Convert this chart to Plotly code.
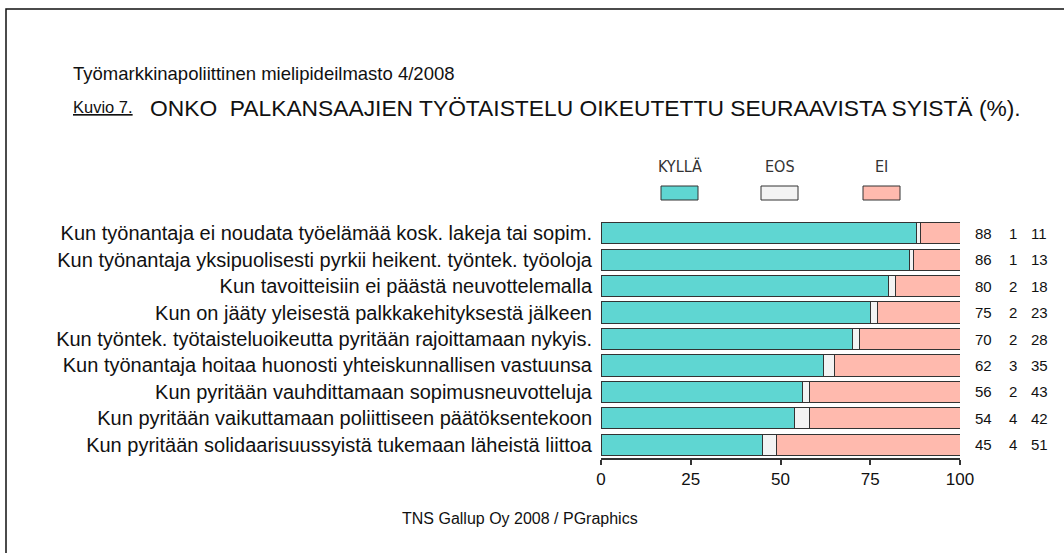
import plotly.graph_objects as go

categories = [
    "Kun työnantaja ei noudata työelämää kosk. lakeja tai sopim.",
    "Kun työnantaja yksipuolisesti pyrkii heikent. työntek. työoloja",
    "Kun tavoitteisiin ei päästä neuvottelemalla",
    "Kun on jääty yleisestä palkkakehityksestä jälkeen",
    "Kun työntek. työtaisteluoikeutta pyritään rajoittamaan nykyis.",
    "Kun työnantaja hoitaa huonosti yhteiskunnallisen vastuunsa",
    "Kun pyritään vauhdittamaan sopimusneuvotteluja",
    "Kun pyritään vaikuttamaan poliittiseen päätöksentekoon",
    "Kun pyritään solidaarisuussyistä tukemaan läheistä liittoa",
]
kylla = [88, 86, 80, 75, 70, 62, 56, 54, 45]
eos = [1, 1, 2, 2, 2, 3, 2, 4, 4]
ei = [11, 13, 18, 23, 28, 35, 43, 42, 51]
series_names = ["KYLLÄ", "EOS", "EI"]
tick_vals = [0, 25, 50, 75, 100]

colors = ["#5fd6d2", "#f3f3f3", "#ffbaae"]
W, H = 1064, 553
L, R, T, B = 601, 960, 220, 458

def px(x):
    return (x - L) / (R - L)

def py(y):
    return (B - y) / (B - T)

FONT = "Liberation Sans, Arial, sans-serif"
NARROW = "Liberation Sans Narrow, Arial Narrow, DejaVu Sans Condensed, sans-serif"

fig = go.Figure()
for name, vals, col in zip(series_names, [kylla, eos, ei], colors):
    fig.add_trace(go.Bar(
        y=categories, x=vals, name=name, orientation="h",
        marker=dict(color=col, line=dict(color="#333333", width=1)),
        showlegend=False, hoverinfo="x+name",
    ))

annotations = []
# numbers column (pixel centres of the three columns)
num_px = [983, 1013, 1039]
for vals, nx in zip([kylla, eos, ei], num_px):
    for c, v in zip(categories, vals):
        annotations.append(dict(
            x=px(nx), y=c, xref="paper", yref="y", text=str(v), showarrow=False,
            xanchor="center", yanchor="middle",
            font=dict(family=FONT, size=15, color="#111111")))

# legend
legend_cx = [679.5, 779.5, 881.5]
shapes = []
for name, col, cx in zip(series_names, colors, legend_cx):
    annotations.append(dict(
        x=px(cx), y=py(167), xref="paper", yref="paper", text=name,
        showarrow=False, xanchor="center", yanchor="middle",
        font=dict(family=NARROW, size=16, color="#333333")))
    shapes.append(dict(
        type="rect", xref="paper", yref="paper",
        x0=px(cx - 18.5), x1=px(cx + 18.5), y0=py(186), y1=py(200),
        fillcolor=col, line=dict(color="#333333", width=1)))

# titles
annotations.append(dict(
    x=px(71), y=py(73), xref="paper", yref="paper",
    text="Työmarkkinapoliittinen mielipideilmasto 4/2008",
    showarrow=False, xanchor="left", yanchor="middle",
    font=dict(family=FONT, size=18.5, color="#111111")))
annotations.append(dict(
    x=px(71), y=py(107), xref="paper", yref="paper",
    text="<u>Kuvio 7.</u>",
    showarrow=False, xanchor="left", yanchor="middle",
    font=dict(family=FONT, size=16.5, color="#111111")))
annotations.append(dict(
    x=px(148), y=py(108), xref="paper", yref="paper",
    text="ONKO\u00a0 PALKANSAAJIEN TYÖTAISTELU OIKEUTETTU SEURAAVISTA SYISTÄ (%).",
    showarrow=False, xanchor="left", yanchor="middle",
    font=dict(family=FONT, size=22.8, color="#111111")))
annotations.append(dict(
    x=px(520), y=py(518), xref="paper", yref="paper",
    text="TNS Gallup Oy 2008 / PGraphics",
    showarrow=False, xanchor="center", yanchor="middle",
    font=dict(family=FONT, size=16, color="#111111")))

# frame
shapes.append(dict(
    type="rect", xref="paper", yref="paper",
    x0=px(6), x1=px(1075), y0=py(9), y1=py(565),
    line=dict(color="#111111", width=1.5), fillcolor="rgba(0,0,0,0)", layer="below"))

fig.update_layout(
    barmode="stack", bargap=0.2,
    width=W, height=H, autosize=False,
    margin=dict(l=L, r=W - R, t=T, b=H - B, pad=0),
    paper_bgcolor="white", plot_bgcolor="white",
    annotations=annotations, shapes=shapes,
    font=dict(family=FONT, color="#111111"),
    xaxis=dict(range=[0, 100], tickvals=tick_vals, showgrid=False, zeroline=False,
               showline=True, linecolor="#333333", linewidth=1.5,
               ticks="outside", ticklen=5, tickwidth=1.5, tickcolor="#333333",
               tickfont=dict(family=FONT, size=17, color="#111111")),
    yaxis=dict(type="category", categoryorder="array", categoryarray=categories,
               autorange="reversed", showgrid=False, zeroline=False, showline=False,
               ticks="", ticklabelstandoff=8,
               tickfont=dict(family=FONT, size=20, color="#111111")),
)

fig.write_html("out.html", config={"displayModeBar": False},
               post_script="document.body.style.margin='0';")
